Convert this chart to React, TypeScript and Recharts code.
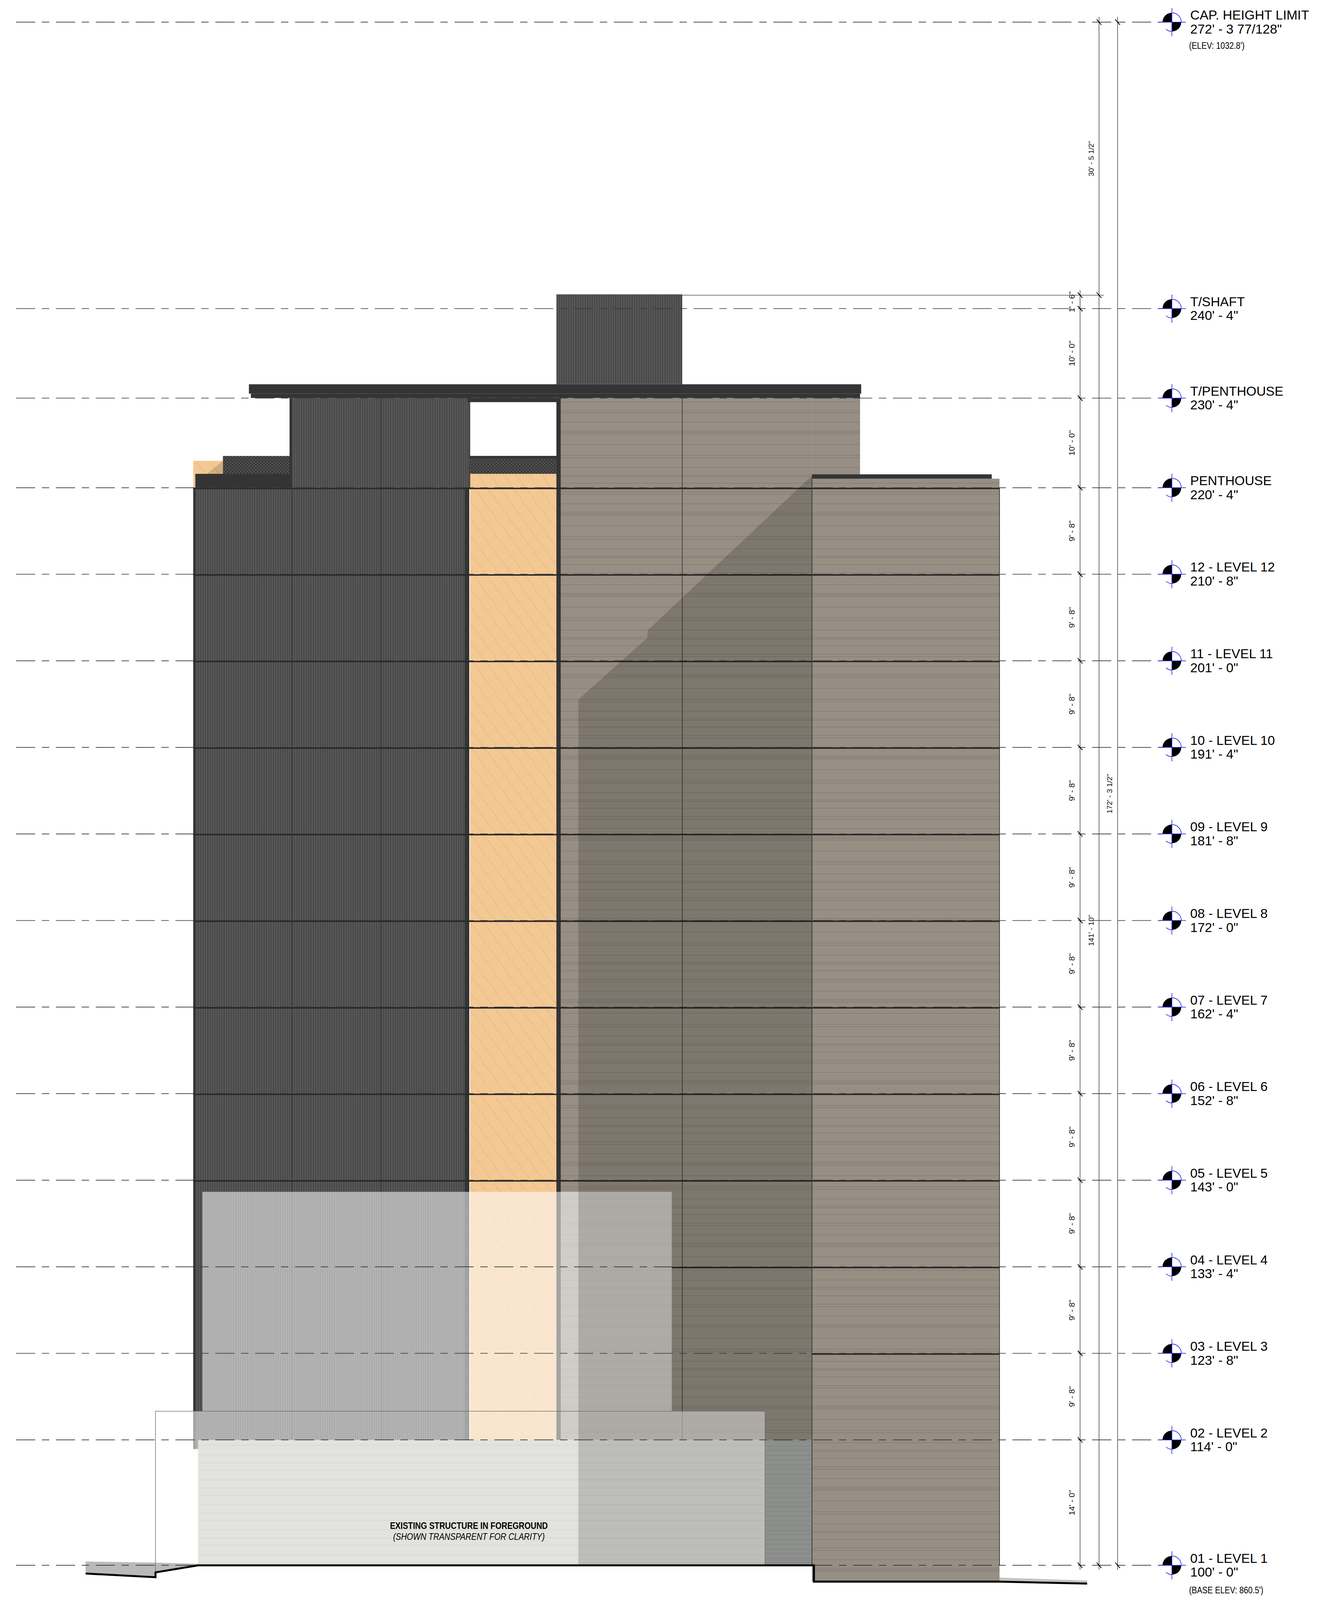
import React from 'react';
import { Area, ComposedChart, Line, Scatter, XAxis, YAxis } from 'recharts';

type Span = [number, number, number, number]; // x from, x to, y from, y to (feet)

const levelNames = ['01 - LEVEL 1', '02 - LEVEL 2', '03 - LEVEL 3', '04 - LEVEL 4', '05 - LEVEL 5', '06 - LEVEL 6', '07 - LEVEL 7', '08 - LEVEL 8', '09 - LEVEL 9', '10 - LEVEL 10', '11 - LEVEL 11', '12 - LEVEL 12', 'PENTHOUSE', 'T/PENTHOUSE', 'T/SHAFT', 'CAP. HEIGHT LIMIT'];
const levelHeights = ['100\' - 0"', '114\' - 0"', '123\' - 8"', '133\' - 4"', '143\' - 0"', '152\' - 8"', '162\' - 4"', '172\' - 0"', '181\' - 8"', '191\' - 4"', '201\' - 0"', '210\' - 8"', '220\' - 4"', '230\' - 4"', '240\' - 4"', '272\' - 3 77/128"'];
const levelValues = [100, 114, 123.67, 133.33, 143, 152.67, 162.33, 172, 181.67, 191.33, 201, 210.67, 220.33, 230.33, 240.33, 272.32];
const levelNotes: Record<number, string> = { 100: "(BASE ELEV: 860.5')", 272.32: "(ELEV: 1032.8')" };

const storeyDims = ['14\' - 0"', '9\' - 8"', '9\' - 8"', '9\' - 8"', '9\' - 8"', '9\' - 8"', '9\' - 8"', '9\' - 8"', '9\' - 8"', '9\' - 8"', '9\' - 8"', '9\' - 8"', '10\' - 0"', '10\' - 0"', '1\' - 6"'];
const overallDims = [
  { x: 116.63, y: 257.08, text: '30\' - 5 1/2"' },
  { x: 116.63, y: 170.9, text: '141\' - 10"' },
  { x: 118.58, y: 186.16, text: '172\' - 3 1/2"' },
];
const shaftTop = 241.83;

const taupeWall: Span[] = [[59.79, 86.58, 114, 230.35], [86.58, 91.71, 221, 230.35]];
const shaftWall: Span[] = [[59.33, 72.75, 231.88, 241.92]];
const darkWall: Span[] = [[20.61, 49.85, 113, 220.33], [30.88, 50.13, 220.33, 230.35]];
const woodPanel: Span[] = [[20.61, 23.77, 220.33, 223.33], [50.13, 59.33, 114, 221.88]];
const meshPanel: Span[] = [[23.77, 30.88, 221.88, 223.88], [50.13, 59.33, 221.88, 223.88]];
const slabTrim: Span[] = [
  [26.54, 91.83, 230.83, 231.88], [26.75, 91.71, 230.35, 230.83], [49.85, 59.33, 229.88, 230.35],
  [20.83, 31.13, 220.33, 221.88], [20.61, 20.83, 113, 220.33], [49.54, 50.04, 113, 220.33],
  [59.33, 59.79, 114, 230.35], [30.88, 31.13, 220.33, 230.35], [50.04, 50.13, 220.33, 230.35],
  [50.13, 59.33, 223.6, 223.88],
];
const woodShade = [{ x: 22.08, r: [221.88, 221.88] }, { x: 23.77, r: [221.88, 223.33] }];
const panelJoints: Span[] = [[31.1, 31.16, 113, 220.33], [40.6, 40.66, 113, 230.35], [72.72, 72.78, 114, 230.35]];
const bandStarts = [0, 0, 0, 71.63, 20.61, 20.61, 20.61, 20.61, 20.61, 20.61, 20.61, 20.61, 20.61];

const glazeUpper: Span[] = [[21.58, 71.63, 117.21, 141.71]];
const glazeLower: Span[] = [[16.58, 81.58, 113, 117.21]];
const existingWall: Span[] = [[21.13, 81.58, 100, 114]];
const existingSide: Span[] = [[81.58, 86.58, 100, 114]];
const shadow = [
  { x: 61.67, r: [100, 196.67] },
  { x: 69.04, r: [100, 203.58] },
  { x: 69.04, r: [100, 204.38] },
  { x: 86.58, r: [100, 221.67] },
];
const frontWall: Span[] = [[86.58, 106.58, 98.17, 221.33]];
const frontCap: Span[] = [[86.58, 105.75, 221.33, 221.83]];
const groundLeft = [
  { x: 9.13, r: [99.08, 100.42] },
  { x: 16.58, r: [98.67, 100.3] },
  { x: 16.58, r: [99.21, 100.3] },
  { x: 21.13, r: [100, 100.17] },
];
const groundRight = [{ x: 106.58, r: [98.17, 98.63] }, { x: 115.92, r: [97.96, 98.29] }];
const groundLine = [
  { x: 9.13, y: 99.08 }, { x: 16.58, y: 98.67 }, { x: 16.58, y: 99.21 }, { x: 21.13, y: 100 },
  { x: 86.79, y: 100 }, { x: 86.79, y: 98.17 }, { x: 106.58, y: 98.17 }, { x: 115.92, y: 97.96 },
];
const glazeOutline = [{ x: 16.58, y: 99.21 }, { x: 16.58, y: 117.21 }, { x: 81.58, y: 117.21 }, { x: 81.58, y: 100 }];
const dimLines = [
  [{ x: 115.17, y: 99.5 }, { x: 115.17, y: 242.38 }],
  [{ x: 117.19, y: 99.5 }, { x: 117.19, y: 272.9 }],
  [{ x: 119.17, y: 99.5 }, { x: 119.17, y: 272.9 }],
  [{ x: 72.75, y: shaftTop }, { x: 117.7, y: shaftTop }],
  [{ x: 86.58, y: 100 }, { x: 86.58, y: 221.33 }],
  [{ x: 106.58, y: 100 }, { x: 106.58, y: 220.33 }],
];
const extraTicks = [
  { x: 115.17, y: shaftTop }, { x: 117.19, y: shaftTop },
  { x: 117.19, y: 272.32 }, { x: 119.17, y: 272.32 }, { x: 117.19, y: 100 }, { x: 119.17, y: 100 },
];
const foregroundNote = [
  { x: 50, y: 104.06, text: 'EXISTING STRUCTURE IN FOREGROUND', bold: true },
  { x: 50, y: 102.83, text: '(SHOWN TRANSPARENT FOR CLARITY)', bold: false },
];

const SANS = '"Liberation Sans", Arial, sans-serif';
const NARROW = '"Liberation Sans Narrow", "Liberation Sans", sans-serif';

const rect = ([x1, x2, lo, hi]: Span) => [{ x: x1, r: [lo, hi] }, { x: x2, r: [lo, hi] }];

function fillArea(key: string, data: any[], fill: string, opacity = 1) {
  return (
    <Area
      key={key}
      data={data}
      dataKey="r"
      type="linear"
      fill={fill}
      fillOpacity={opacity}
      stroke="none"
      dot={false}
      activeDot={false}
      isAnimationActive={false}
    />
  );
}

const spans = (name: string, list: Span[], fill: string, opacity = 1) =>
  list.map((s, i) => fillArea(`${name}-${i}`, rect(s), fill, opacity));

function LevelMark({ cx, cy, payload }: any) {
  const r = 24;
  return (
    <g>
      <path d={`M${cx},${cy} L${cx - r},${cy} A${r},${r} 0 0 1 ${cx},${cy - r} Z`} fill="#000" />
      <path d={`M${cx},${cy} L${cx + r},${cy} A${r},${r} 0 0 1 ${cx},${cy + r} Z`} fill="#000" />
      <path
        d={`M${cx},${cy - r} A${r},${r} 0 0 1 ${cx + r},${cy} M${cx},${cy + r} A${r},${r} 0 0 1 ${cx - 15},${cy + 18} M${cx},${cy - 36} V${cy + 36} M${cx - 36},${cy} H${cx + 36}`}
        fill="none"
        stroke="#1a1ae0"
        strokeWidth={1.5}
      />
      <text x={cx + 47} y={cy - 6.5} fontFamily={SANS} fontSize={33.5} fill="#000">{payload.name}</text>
      <text x={cx + 47} y={cy + 29} fontFamily={SANS} fontSize={33.5} fill="#000">{payload.height}</text>
      {payload.note && (
        <text
          x={cx + 44}
          y={cy + (payload.y === 100 ? 72 : 68)}
          textLength={payload.y === 100 ? 190 : 142}
          lengthAdjust="spacingAndGlyphs"
          fontFamily={NARROW}
          fontSize={23}
          fill="#000"
        >
          {payload.note}
        </text>
      )}
    </g>
  );
}

function DimText({ cx, cy, payload }: any) {
  return (
    <text x={cx} y={cy} transform={`rotate(-90 ${cx} ${cy})`} textAnchor="middle" fontFamily={NARROW} fontSize={21} fill="#111">
      {payload.text}
    </text>
  );
}

function OverallDimText({ cx, cy, payload }: any) {
  return (
    <text x={cx} y={cy} transform={`rotate(-90 ${cx} ${cy})`} textAnchor="middle" fontFamily={NARROW} fontSize={19} fill="#111">
      {payload.text}
    </text>
  );
}

function Slash({ cx, cy }: any) {
  return <line x1={cx - 6} y1={cy - 7} x2={cx + 6} y2={cy + 7} stroke="#000" strokeWidth={2} />;
}

function NoteText({ cx, cy, payload }: any) {
  return (
    <text
      x={cx}
      y={cy}
      textAnchor="middle"
      textLength={payload.bold ? 404 : 388}
      lengthAdjust="spacingAndGlyphs"
      fontFamily={NARROW}
      fontSize={23}
      fontWeight={payload.bold ? 700 : 400}
      fontStyle={payload.bold ? 'normal' : 'italic'}
      fill="#000"
    >
      {payload.text}
    </text>
  );
}

const plainLine = (key: string, data: any[], stroke: string, width: number, dash?: string) => (
  <Line key={key} data={data} dataKey="y" type="linear" stroke={stroke} strokeWidth={width} strokeDasharray={dash} dot={false} activeDot={false} isAnimationActive={false} />
);

export default function App() {
  const levelPoints = levelValues.map((y, i) => ({ x: 124.96, y, name: levelNames[i], height: levelHeights[i], note: levelNotes[y] }));
  const storeyTicks = levelValues.slice(0, -1).map(y => ({ x: 115.17, y }));
  const storeyLabels = storeyDims.map((text, i) => ({
    x: 114.58,
    y: i < 14 ? (levelValues[i] + levelValues[i + 1]) / 2 : (levelValues[14] + shaftTop) / 2,
    text,
  }));
  const bands: Span[] = levelValues
    .slice(2, 13)
    .map((y, i) => [bandStarts[i + 2] || 86.58, 86.58, y - 0.16, y] as Span);
  const frontBands: Span[] = levelValues.slice(2, 13).map(y => [86.58, 106.58, y - 0.16, y] as Span);

  // the photographed page stops at 4096px, so the full drawing is fitted into that height
  return (
    <div style={{ margin: -8, width: 3373, height: 4096, background: '#fff', overflow: 'hidden' }}>
      <ComposedChart width={3373} height={4096} margin={{ top: 0, right: 0, bottom: 0, left: 0 }}>
        <defs>
          <pattern id="ribs" width={6} height={10} patternUnits="userSpaceOnUse">
            <rect width={6} height={10} fill="#4a4a4a" />
            <rect width={1.4} height={10} fill="#666" />
          </pattern>
          <pattern id="mesh" width={8.5} height={8.5} patternUnits="userSpaceOnUse">
            <rect width={8.5} height={8.5} fill="#525252" />
            <path d="M0,0 L8.5,8.5 M8.5,0 L0,8.5" stroke="#2c2c2c" strokeWidth={1.3} />
          </pattern>
          <pattern id="wood" width={33} height={45} patternUnits="userSpaceOnUse">
            <rect width={33} height={45} fill="#f4c893" />
            <path d="M0,0 C5,7 11,9 14,19 S27,32 33,45" fill="none" stroke="#e3b78c" strokeWidth={1.4} />
          </pattern>
          <pattern id="boards" width={40} height={208} patternUnits="userSpaceOnUse">
            <rect width={40} height={208} fill="#978e84" />
            <path d="M0,11 H40 M0,17 H40 M0,41 H40 M0,63 H40 M0,67 H40 M0,71 H40 M0,98 H40 M0,126 H40 M0,132 H40 M0,157 H40 M0,176 H40 M0,180 H40 M0,197 H40" stroke="#857d73" strokeWidth={1.3} />
          </pattern>
          <pattern id="existing" width={40} height={64} patternUnits="userSpaceOnUse">
            <rect width={40} height={64} fill="#e2e3de" />
            <path d="M0,12 H40 M0,33 H40 M0,52 H40" stroke="#d6d7d2" strokeWidth={1.5} />
          </pattern>
          <pattern id="existingDark" width={40} height={24} patternUnits="userSpaceOnUse">
            <rect width={40} height={24} fill="#a9aba7" />
            <path d="M0,6 H40 M0,17 H40" stroke="#9a9c98" strokeWidth={1.3} />
          </pattern>
        </defs>
        <XAxis dataKey="x" type="number" domain={[0, 140.54]} hide allowDataOverflow />
        <YAxis dataKey="y" type="number" domain={[96.125, 274.79]} hide allowDataOverflow />

        {fillArea('ground-left', groundLeft, '#b9b9b9')}
        {fillArea('ground-right', groundRight, '#c4c4c4')}
        {spans('taupe', taupeWall, 'url(#boards)')}
        {spans('shaft', shaftWall, 'url(#ribs)')}
        {spans('wood', woodPanel, 'url(#wood)')}
        {fillArea('wood-shade', woodShade, '#000', 0.14)}
        {spans('mesh', meshPanel, 'url(#mesh)')}
        {spans('dark', darkWall, 'url(#ribs)')}
        {spans('slab', slabTrim, '#343434')}
        {spans('joints', panelJoints, '#2a2a2a')}
        {spans('bands', bands.filter(b => b[1] > b[0]), '#2a2826')}
        {spans('glaze-upper', glazeUpper, '#fff', 0.55)}
        {spans('glaze-lower', glazeLower, '#fff', 0.55)}
        {spans('existing', existingWall, 'url(#existing)')}
        {spans('existing-side', existingSide, 'url(#existingDark)')}
        {fillArea('shadow', shadow, '#000', 0.16)}
        {spans('front', frontWall, 'url(#boards)')}
        {spans('front-cap', frontCap, '#343434')}
        {spans('front-bands', frontBands, '#2a2826')}

        {plainLine('outline', glazeOutline, '#666', 1.3)}
        {dimLines.map((d, i) => plainLine(`dim-${i}`, d, '#333', i < 4 ? 1.4 : 1.8))}
        {levelValues.map(y =>
          plainLine(`level-${y}`, [{ x: 1.71, y }, { x: 123.96, y }], '#333', 1.7, '49 17 19 17')
        )}
        {plainLine('ground', groundLine, '#000', 5)}

        <Scatter data={storeyTicks} shape={Slash} isAnimationActive={false} />
        <Scatter data={extraTicks} shape={Slash} isAnimationActive={false} />
        <Scatter data={storeyLabels} shape={DimText} isAnimationActive={false} />
        <Scatter data={overallDims} shape={OverallDimText} isAnimationActive={false} />
        <Scatter data={foregroundNote} shape={NoteText} isAnimationActive={false} />
        <Scatter data={levelPoints} shape={LevelMark} isAnimationActive={false} />
      </ComposedChart>
    </div>
  );
}
